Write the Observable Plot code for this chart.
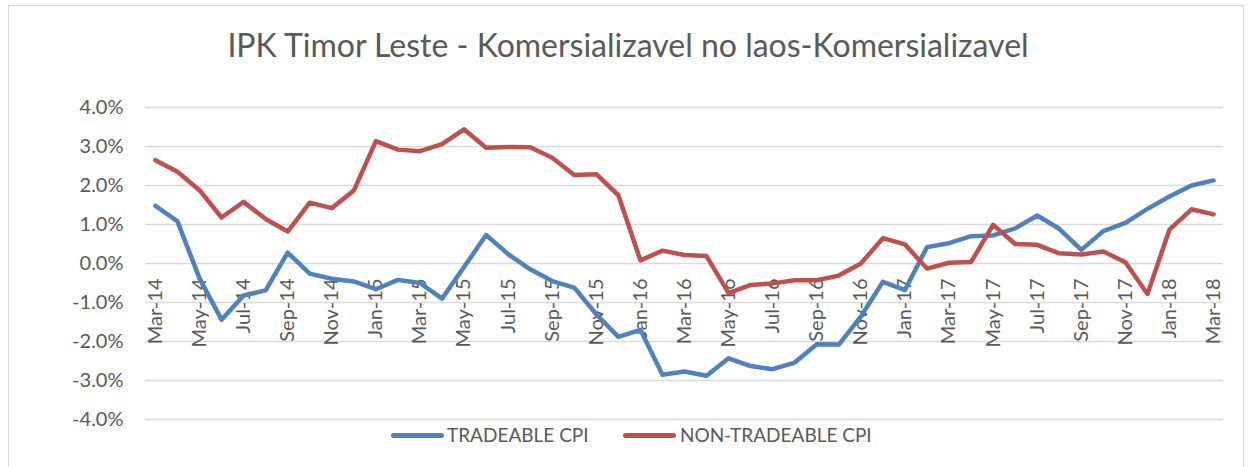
<!DOCTYPE html>
<html>
<head>
<meta charset="utf-8">
<script src="https://cdn.jsdelivr.net/npm/d3@7"></script>
<script src="https://cdn.jsdelivr.net/npm/@observablehq/plot@0.6"></script>
<style>
  html, body { margin: 0; padding: 0; background: #ffffff; }
  #wrap { position: relative; width: 1248px; height: 467px; overflow: hidden; font-family: Lato, "Open Sans", sans-serif; color: #595959; }
  #frame { position: absolute; left: 8px; top: 5px; width: 1236px; height: 500px; border: 1px solid #d9d9d9; box-sizing: border-box; }
  #title { position: absolute; left: 0; top: 26px; width: 1256px; text-align: center; font-size: 32px; line-height: 38px; color: #595959; white-space: nowrap; }
  #chart { position: absolute; left: 0; top: 90px; }
  .lg-line { position: absolute; height: 5px; border-radius: 3px; }
  .lg-text { position: absolute; font-size: 19px; line-height: 24px; color: #595959; white-space: nowrap; }
</style>
</head>
<body>
<div id="wrap">
  <div id="frame"></div>
  <div id="title"></div>
  <div id="chart"></div>
  <div id="legend"></div>
</div>
<script>
const chartTitle = "IPK Timor Leste - Komersializavel no laos-Komersializavel";
const months = ["Mar-14","Apr-14","May-14","Jun-14","Jul-14","Aug-14","Sep-14","Oct-14","Nov-14","Dec-14",
  "Jan-15","Feb-15","Mar-15","Apr-15","May-15","Jun-15","Jul-15","Aug-15","Sep-15","Oct-15","Nov-15","Dec-15",
  "Jan-16","Feb-16","Mar-16","Apr-16","May-16","Jun-16","Jul-16","Aug-16","Sep-16","Oct-16","Nov-16","Dec-16",
  "Jan-17","Feb-17","Mar-17","Apr-17","May-17","Jun-17","Jul-17","Aug-17","Sep-17","Oct-17","Nov-17","Dec-17",
  "Jan-18","Feb-18","Mar-18"];
const tradeable = [1.48,1.08,-0.38,-1.44,-0.82,-0.69,0.28,-0.26,-0.39,-0.46,
  -0.66,-0.42,-0.50,-0.90,-0.09,0.73,0.24,-0.15,-0.45,-0.62,-1.30,-1.88,
  -1.70,-2.85,-2.77,-2.88,-2.43,-2.63,-2.71,-2.54,-2.07,-2.08,-1.36,-0.47,
  -0.68,0.42,0.52,0.70,0.72,0.90,1.23,0.89,0.35,0.83,1.04,1.40,
  1.72,2.00,2.13];
const nonTradeable = [2.65,2.35,1.88,1.18,1.58,1.14,0.82,1.56,1.42,1.87,
  3.14,2.92,2.88,3.06,3.44,2.97,2.99,2.98,2.71,2.27,2.29,1.75,
  0.08,0.33,0.22,0.19,-0.76,-0.55,-0.51,-0.43,-0.43,-0.31,0.00,0.65,
  0.49,-0.13,0.02,0.04,0.99,0.50,0.48,0.26,0.23,0.31,0.03,-0.78,
  0.87,1.39,1.26];
const seriesNames = ["TRADEABLE CPI", "NON-TRADEABLE CPI"];
const seriesColors = ["#4f81bd", "#c0504d"];
const yTicks = [-4, -3, -2, -1, 0, 1, 2, 3, 4];
const tickMonths = months.filter((m, i) => i % 2 === 0);

document.getElementById("title").textContent = chartTitle;

const rows = months.flatMap((m, i) => [
  {i, m, v: tradeable[i], s: seriesNames[0]},
  {i, m, v: nonTradeable[i], s: seriesNames[1]}
]);
const tickRows = tickMonths.map(m => ({i: months.indexOf(m), m}));

const plot = Plot.plot({
  width: 1248,
  height: 348,
  marginLeft: 145,
  marginRight: 25,
  marginTop: 17,
  marginBottom: 19,
  style: {fontFamily: "Lato, 'Open Sans', sans-serif", background: "transparent", color: "#595959"},
  x: {domain: [-0.45, months.length - 1 + 0.45], axis: null},
  y: {domain: [-4, 4], axis: null},
  color: {domain: seriesNames, range: seriesColors},
  marks: [
    Plot.gridY(yTicks, {stroke: "#d9d9d9", strokeOpacity: 1, strokeWidth: 1.3}),
    Plot.axisY(yTicks, {tickSize: 0, tickPadding: 22, tickFormat: d => d.toFixed(1) + "%", fontSize: 20, fill: "#595959", label: null}),
    Plot.text(tickRows, {x: "i", y: () => 0, text: "m", rotate: -90, textAnchor: "end", dy: 15, fontSize: 20, fill: "#595959"}),
    Plot.lineY(rows, {x: "i", y: "v", z: "s", stroke: "s", strokeWidth: 4.5, strokeLinecap: "round", strokeLinejoin: "round"})
  ]
});
document.getElementById("chart").appendChild(plot);

// legend
const legend = document.getElementById("legend");
const lgPos = [{line: 391, text: 447}, {line: 623, text: 680}];
seriesNames.forEach((name, k) => {
  const ln = document.createElement("div");
  ln.className = "lg-line";
  ln.style.left = lgPos[k].line + "px";
  ln.style.top = "433px";
  ln.style.width = "53px";
  ln.style.background = seriesColors[k];
  legend.appendChild(ln);
  const tx = document.createElement("div");
  tx.className = "lg-text";
  tx.style.left = lgPos[k].text + "px";
  tx.style.top = "423px";
  tx.textContent = name;
  legend.appendChild(tx);
});
</script>
</body>
</html>
